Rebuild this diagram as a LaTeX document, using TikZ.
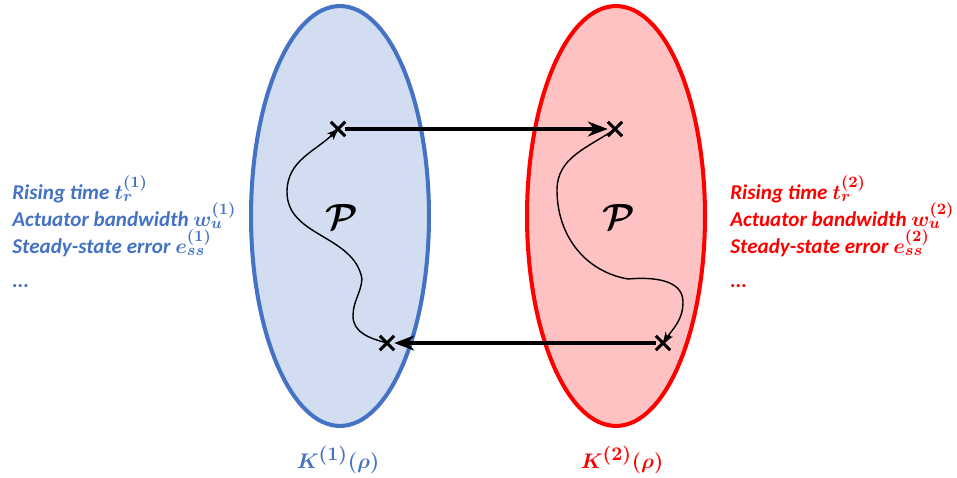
\documentclass[tikz,border=0pt]{standalone}
\usepackage{fontspec}
\setmainfont{Carlito}
\usepackage{bm}
\DeclareMathSizes{12}{12}{9.2}{7}
\DeclareMathSizes{13}{13}{10.5}{8}
\usetikzlibrary{positioning,arrows.meta,shapes.geometric,shapes.misc}
\definecolor{KBlue}{HTML}{4472C4}
\definecolor{KRed}{HTML}{FF0000}

\begin{document}
\begin{tikzpicture}[
  x=0.02cm, y=-0.02cm,
  set/.style={ellipse, line width=2.3pt, minimum width=3.56cm, minimum height=8.4cm, inner sep=0pt},
  xmark/.style={cross out, draw, line width=1.7pt, minimum size=6.5pt, inner sep=0pt},
  link/.style={-{Stealth[length=4mm, width=3mm]}, line width=1.9pt},
  walk/.style={-{Stealth[length=2.2mm, width=1.8mm]}, line width=0.8pt},
  spec/.style={font=\bfseries\itshape\fontsize{12}{14.8}\selectfont, anchor=base west, inner sep=0pt},
  cost/.style={font=\fontsize{13}{15}\selectfont, anchor=base, inner sep=0pt}
]
\useasboundingbox (0,0) rectangle (957,477);

% the two controller sets
\node[set, draw=KBlue, fill=KBlue!24] (kone) at (340,216) {};
\node[set, draw=KRed, fill=KRed!24] (ktwo) at (616,216) {};
\node[font=\fontsize{22}{26}\selectfont] (pone) at (342,217) {$\bm{\mathcal{P}}$};
\node[font=\fontsize{22}{26}\selectfont] (ptwo) at (619,217) {$\bm{\mathcal{P}}$};

% end points
\node[xmark] (lt) at (338,129) {};
\node[xmark] (rt) at (615,129) {};
\node[xmark] (lb) at (387,343) {};
\node[xmark] (rb) at (663,343) {};

% paths inside the sets
\draw[walk] (lb.center) to[out=165, in=-90] (353,316) to[out=90, in=-95] (362,279)
  to[out=100, in=-90] (287,192) to[out=90, in=225] (lt.center);
\draw[walk] (rt.center) to[out=215, in=90] (557,190) to[out=270, in=170] (628,279)
  to[out=5, in=90] (683,302) to[out=270, in=55] (rb.center);

% jumps between the sets
\draw[link] (lt) -- (rt);
\draw[link] (rb) -- (lb);

% specifications
\node[spec, text=KBlue] (rise1) at (12,199) {Rising time $\bm{t_r^{(1)}}$};
\node[spec, text=KBlue] (band1) at (12,226) {Actuator bandwidth $\bm{w_u^{(1)}}$};
\node[spec, text=KBlue] (err1) at (12,253) {Steady-state error $\bm{e_{ss}^{(1)}}$};
\node[spec, text=KBlue] (dots1) at (12,287) {...};
\node[spec, text=KRed] (rise2) at (730,199) {Rising time $\bm{t_r^{(2)}}$};
\node[spec, text=KRed] (band2) at (730,226) {Actuator bandwidth $\bm{w_u^{(2)}}$};
\node[spec, text=KRed] (err2) at (730,253) {Steady-state error $\bm{e_{ss}^{(2)}}$};
\node[spec, text=KRed] (dots2) at (730,287) {...};

\node[cost, text=KBlue] (kname1) at (338,468) {$\bm{K^{(1)}(\rho)}$};
\node[cost, text=KRed] (kname2) at (622,468) {$\bm{K^{(2)}(\rho)}$};
\end{tikzpicture}
\end{document}
